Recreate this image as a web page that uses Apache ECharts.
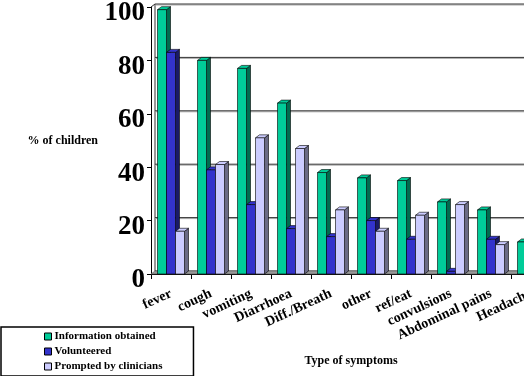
<!DOCTYPE html>
<html>
<head>
<meta charset="utf-8">
<script src="https://cdn.jsdelivr.net/npm/echarts@6/dist/echarts.min.js"></script>
<style>
  html, body { margin: 0; padding: 0; background: #fff; }
  #chart { width: 524px; height: 376px; }
</style>
</head>
<body>
<div id="chart"></div>
<script>
const categories = ['fever', 'cough', 'vomiting', 'Diarrhoea', 'Diff./Breath', 'other', 'ref/eat', 'convulsions', 'Abdominal pains', 'Headache'];
const informationObtained = [99, 80, 77, 64, 38, 36, 35, 27, 24, 12];
const volunteered = [83, 39, 26, 17, 14, 20, 13, 1, 13, null];
const promptedByClinicians = [16, 41, 51, 47, 24, 16, 22, 26, 11, null];
const yTicks = [0, 20, 40, 60, 80, 100];

const FONT = 'Liberation Serif';
// depth of the fake 3d
const DX = 4;
const DY = -3;

function bar3d(k, front, side) {
  return function (params, api) {
    const v = api.value(1);
    if (v == null || isNaN(v)) return;
    const top = api.coord([api.value(0), v]);
    const base = api.coord([api.value(0), 0]);
    const w = api.size([1, 0])[0] * 0.225;
    const x = top[0] + (k - 1.5) * w;
    const y = top[1];
    const yb = base[1];
    const stroke = { stroke: '#000', lineWidth: 0.6 };
    return {
      type: 'group',
      children: [
        { type: 'polygon', shape: { points: [[x + w, y], [x + w + DX, y + DY], [x + w + DX, yb + DY], [x + w, yb]] }, style: Object.assign({ fill: side }, stroke) },
        { type: 'polygon', shape: { points: [[x, y], [x + DX, y + DY], [x + w + DX, y + DY], [x + w, y]] }, style: Object.assign({ fill: front }, stroke) },
        { type: 'rect', shape: { x: x, y: y, width: w, height: yb - y }, style: Object.assign({ fill: front }, stroke) }
      ]
    };
  };
}

// back wall grid lines, left wall and floor
function frame(params, api) {
  const cs = params.coordSys;
  const y = api.coord([0, api.value(1)])[1];
  const x0 = cs.x, x1 = cs.x + cs.width;
  const children = [
    { type: 'line', shape: { x1: x0 + DX, y1: y + DY + 1, x2: x1 + DX, y2: y + DY + 1 }, style: { stroke: '#aaa', lineWidth: 1 } },
    { type: 'line', shape: { x1: x0 + DX, y1: y + DY, x2: x1 + DX, y2: y + DY }, style: { stroke: '#333', lineWidth: 1 } }
  ];
  if (api.value(1) === 0) {
    children.push(
      { type: 'polygon', shape: { points: [[x0, y], [x0 + DX, y + DY], [x1 + DX, y + DY], [x1, y]] }, style: { fill: '#999', stroke: '#555', lineWidth: 0.6 } },
      { type: 'polyline', shape: { points: [[x0, cs.y], [x0 + DX, cs.y + DY], [x0 + DX, y + DY]] }, style: { stroke: '#333', lineWidth: 1, fill: null } }
    );
  }
  return { type: 'group', children: children };
}

const chart = echarts.init(document.getElementById('chart'));
chart.setOption({
  animation: false,
  backgroundColor: '#fff',
  grid: { left: 151, right: -27, top: 7, bottom: 102, outerBoundsMode: 'none' },
  legend: {
    orient: 'vertical',
    left: 1,
    top: 327,
    padding: [4, 31, 4, 43],
    itemGap: 4,
    itemWidth: 7,
    itemHeight: 7,
    icon: 'rect',
    borderColor: '#000',
    borderWidth: 1.5,
    backgroundColor: '#fff',
    itemStyle: { borderColor: '#000', borderWidth: 1 },
    textStyle: { fontFamily: FONT, fontWeight: 'bold', fontSize: 11, color: '#000', padding: [0, 0, 0, -2] },
    data: ['Information obtained', 'Volunteered', 'Prompted by clinicians']
  },
  xAxis: {
    type: 'category',
    data: categories,
    name: 'Type of symptoms',
    nameLocation: 'middle',
    nameGap: 81,
    nameTextStyle: { fontFamily: FONT, fontWeight: 'bold', fontSize: 12, color: '#000' },
    axisLine: { lineStyle: { color: '#000', width: 1 } },
    axisTick: { show: true, length: 5, lineStyle: { color: '#000' } },
    axisLabel: {
      interval: 0,
      rotate: 25,
      margin: 19,
      hideOverlap: false,
      fontFamily: FONT,
      fontWeight: 'bold',
      fontSize: 14,
      color: '#000'
    }
  },
  yAxis: {
    type: 'value',
    min: 0,
    max: 100,
    interval: 20,
    name: '% of children',
    nameLocation: 'middle',
    nameRotate: 0,
    nameGap: 53,
    nameTextStyle: { fontFamily: FONT, fontWeight: 'bold', fontSize: 12, color: '#000' },
    axisLine: { show: true, lineStyle: { color: '#000', width: 1 } },
    axisTick: { show: true, length: 4, lineStyle: { color: '#000' } },
    splitLine: { show: false },
    axisLabel: {
      margin: 6,
      formatter: (value) => '{v|' + value + '}',
      rich: {
        v: { padding: [13, 0, 0, 0], fontFamily: FONT, fontWeight: 'bold', fontSize: 27, color: '#000' }
      }
    }
  },
  series: [
    {
      type: 'custom',
      name: 'frame',
      z: 1,
      silent: true,
      renderItem: frame,
      data: yTicks.map((v) => [0, v])
    },
    {
      type: 'custom',
      name: 'Information obtained',
      z: 2,
      itemStyle: { color: '#00CC99' },
      renderItem: bar3d(0, '#00CC99', '#006B4F'),
      data: informationObtained.map((v, i) => [i, v])
    },
    {
      type: 'custom',
      name: 'Volunteered',
      z: 3,
      itemStyle: { color: '#3333CC' },
      renderItem: bar3d(1, '#3333CC', '#1A1A66'),
      data: volunteered.map((v, i) => [i, v])
    },
    {
      type: 'custom',
      name: 'Prompted by clinicians',
      z: 4,
      itemStyle: { color: '#CCCCFF' },
      renderItem: bar3d(2, '#CCCCFF', '#6B6B85'),
      data: promptedByClinicians.map((v, i) => [i, v])
    }
  ]
});
</script>
</body>
</html>
